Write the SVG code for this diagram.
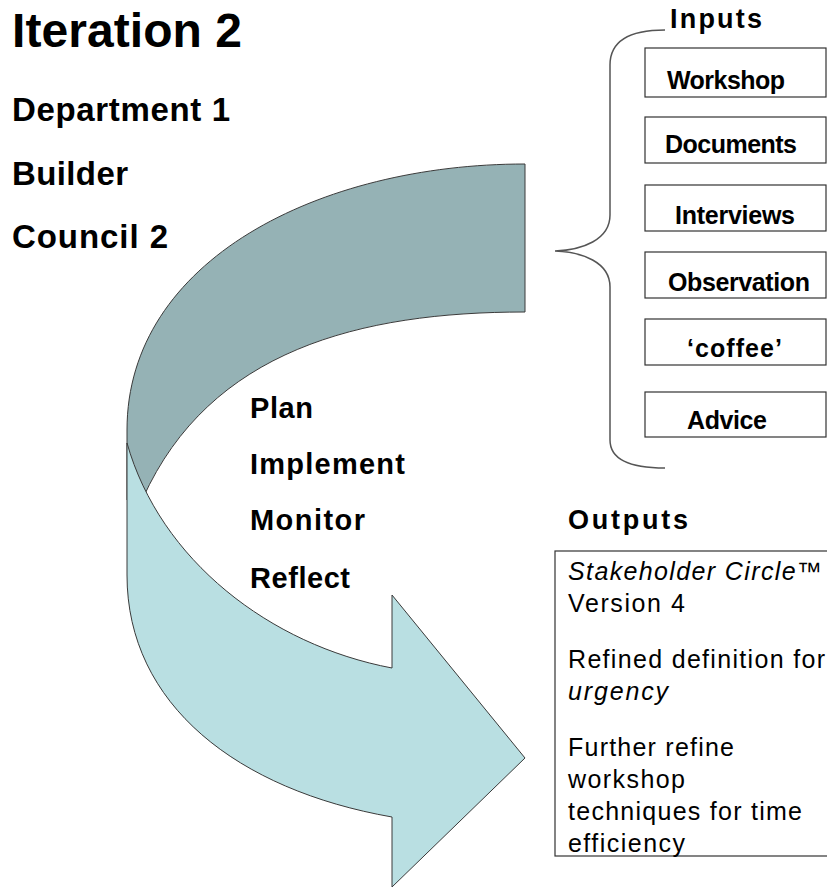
<svg xmlns="http://www.w3.org/2000/svg" width="827" height="888" viewBox="0 0 827 888">
<style>
text{font-family:"Liberation Sans",Arial,sans-serif;fill:#000}
.b{font-weight:bold}
.box{fill:#fff;stroke:#333;stroke-width:1.2}
.in{font-size:25px;font-weight:bold}
.ph{font-size:29px;font-weight:bold}
.out{font-size:25px}
.it{font-style:italic}
.band{stroke:#3a3a3a;stroke-width:1}
</style>
<rect width="827" height="888" fill="#fff"/>
<g id="title">
<text class="b" x="12" y="47" font-size="48" textLength="230">Iteration 2</text>
<text class="b" x="12" y="121" font-size="33" textLength="218">Department 1</text>
<text class="b" x="12" y="185" font-size="33" textLength="116">Builder</text>
<text class="b" x="12" y="248" font-size="33" textLength="156">Council 2</text>
</g>
<g id="cycle-arrow">
<path class="band" fill="#95b2b5" d="M525,164 C320,164 127,260 127,430 L127,500 L143,498 C210,350 360,312 525,312 Z"/>
<path class="band" fill="#b9dfe2" d="M127,443 L127,575 C127,705 238,790 392,817 L392,887 L525,758 L392,595 L392,668 C270,645 160,560 127,443 Z"/>
</g>
<g id="phases">
<text class="ph" x="250" y="418" textLength="63">Plan</text>
<text class="ph" x="250" y="474" textLength="155">Implement</text>
<text class="ph" x="250" y="530" textLength="115">Monitor</text>
<text class="ph" x="250" y="588" textLength="100">Reflect</text>
</g>
<g id="connectors">
<path d="M665,30 C630,30 610,40 610,65 L610,215 C610,240 582,250 555,251 C582,252 610,262 610,287 L610,440 C610,460 630,468 665,468" fill="none" stroke="#555" stroke-width="1.5"/>
</g>
<g id="inputs">
<text class="b" x="670" y="28" font-size="27" textLength="92">Inputs</text>
<g id="in-workshop"><rect class="box" x="645" y="48" width="181" height="49"/><text class="in" x="667" y="89" textLength="118">Workshop</text></g>
<g id="in-documents"><rect class="box" x="645" y="117" width="181" height="46"/><text class="in" x="665" y="153" textLength="132">Documents</text></g>
<g id="in-interviews"><rect class="box" x="645" y="185" width="181" height="46"/><text class="in" x="675" y="224" textLength="120">Interviews</text></g>
<g id="in-observation"><rect class="box" x="645" y="252" width="181" height="46"/><text class="in" x="668" y="291" textLength="142">Observation</text></g>
<g id="in-coffee"><rect class="box" x="645" y="319" width="181" height="46"/><text class="in" x="687" y="357" textLength="95">‘coffee’</text></g>
<g id="in-advice"><rect class="box" x="645" y="392" width="181" height="45"/><text class="in" x="687" y="429" textLength="80">Advice</text></g>
</g>
<g id="outputs">
<text class="b" x="568" y="529" font-size="27" textLength="120">Outputs</text>
<rect class="box" x="555" y="551" width="290" height="305"/>
<text class="out" x="568" y="580" textLength="254"><tspan class="it">Stakeholder Circle</tspan>™</text>
<text class="out" x="568" y="612" textLength="117">Version 4</text>
<text class="out" x="568" y="668" textLength="257">Refined definition for</text>
<text class="out it" x="568" y="700" textLength="100">urgency</text>
<text class="out" x="568" y="756" textLength="166">Further refine</text>
<text class="out" x="568" y="788" textLength="117">workshop</text>
<text class="out" x="568" y="820" textLength="234">techniques for time</text>
<text class="out" x="568" y="852" textLength="117">efficiency</text>
</g>
</svg>
